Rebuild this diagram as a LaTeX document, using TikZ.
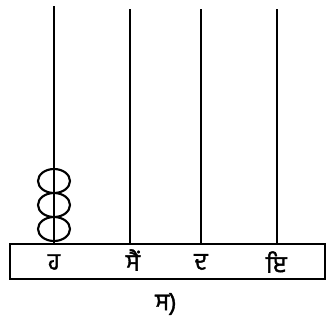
\documentclass[tikz,border=0pt]{standalone}
\usepackage{fontspec}
\newfontfamily\gurfont[Script=Gurmukhi,FakeBold=1.6]{Hind Jalandhar}

\begin{document}
\begin{tikzpicture}[x=0.75pt,y=-0.75pt,line width=1.5pt,
  rod/.style={line width=2.2pt},
  bead/.style={line width=1.6pt},
  lbl/.style={font=\gurfont\fontsize{18}{20}\selectfont}]
  \useasboundingbox (0,0) rectangle (335,326);
  % rod positions: ones, tens, hundreds, thousands
  \coordinate (r1) at (54,244);
  \coordinate (r2) at (130,244);
  \coordinate (r3) at (201,244);
  \coordinate (r4) at (277,244);
  \coordinate (t1) at (54,6);
  \coordinate (t2) at (130,9);
  \coordinate (t3) at (201,9);
  \coordinate (t4) at (277,9);
  % rods
  \foreach \n in {1,2,3,4}{ \draw[rod] (r\n) -- (t\n); }
  % beads on the first rod
  \foreach \y in {181,205,229}{
    \draw[bead] (54,\y) ellipse[x radius=16, y radius=12];
  }
  % base
  \draw (10,244) rectangle (325,279);
  \node[lbl] (l1) at (54,262) {ਹ};
  \node[lbl] (l2) at (133,260) {ਸੈਂ};
  \node[lbl] (l3) at (201,262) {ਦ};
  \node[lbl] (l4) at (276,262) {ਇ};
  % caption
  \node[lbl] (cap) at (166,304) {ਸ)};
\end{tikzpicture}
\end{document}
